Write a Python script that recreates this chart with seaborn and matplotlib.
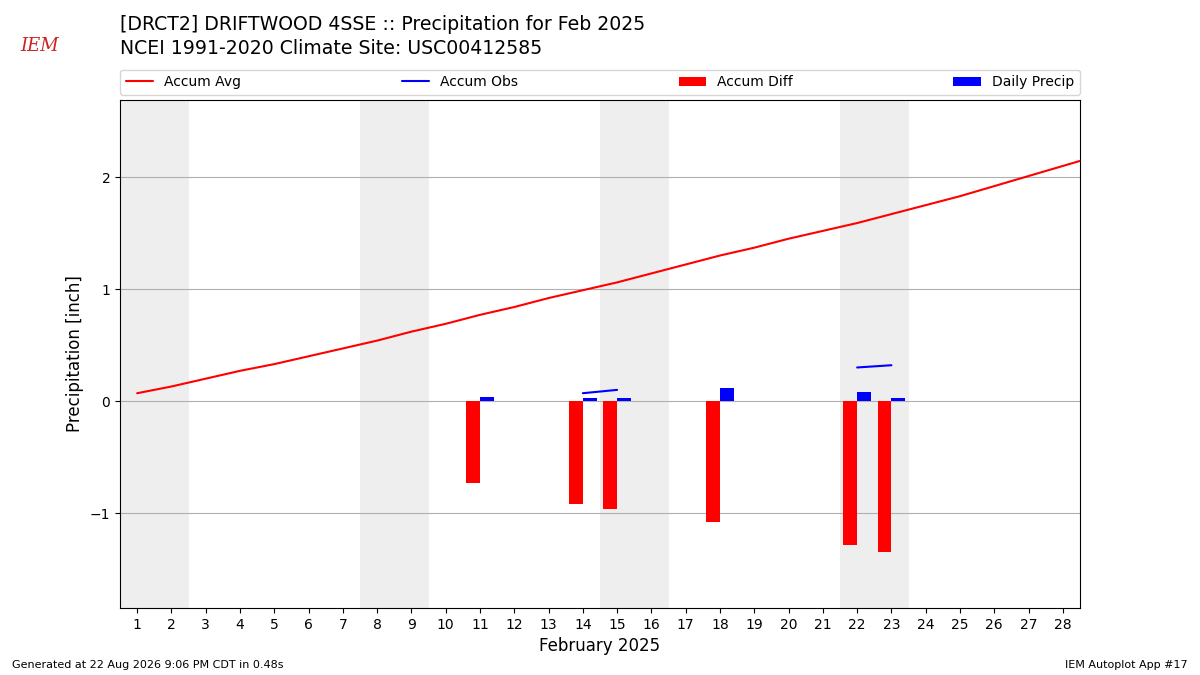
import numpy as np
import matplotlib
matplotlib.use('Agg')
import matplotlib.pyplot as plt
import seaborn as sns

sns.set_theme(style='white')
plt.rcParams['font.family'] = ['DejaVu Sans']
plt.rcParams['text.color'] = 'black'
plt.rcParams['axes.labelcolor'] = 'black'
plt.rcParams['xtick.color'] = 'black'
plt.rcParams['ytick.color'] = 'black'

days = list(range(1, 30))
accum_avg = [0.07, 0.13, 0.20, 0.27, 0.33, 0.40, 0.47, 0.54, 0.62, 0.69,
             0.77, 0.84, 0.92, 0.99, 1.06, 1.14, 1.22, 1.30, 1.37, 1.45,
             1.52, 1.59, 1.67, 1.75, 1.83, 1.92, 2.01, 2.10, 2.19]
obs_days = [11, 14, 15, 18, 22, 23]
daily_precip = [0.04, 0.03, 0.03, 0.12, 0.08, 0.03]
accum_obs = [0.04, 0.07, 0.10, 0.22, 0.30, 0.32]
weekends = [(1, 2), (8, 9), (15, 16), (22, 23)]

avg_map = dict(zip(days, accum_avg))
accum_diff = [o - avg_map[d] for d, o in zip(obs_days, accum_obs)]

fig = plt.figure(figsize=(12, 6.75), dpi=100)
ax = fig.add_axes([0.1, 0.099, 0.8, 0.753])

for a, b in weekends:
    ax.axvspan(a - 0.5, b + 0.5, color='#eeeeee', zorder=0, linewidth=0)

sns.lineplot(x=days, y=accum_avg, color='red', ax=ax, label='Accum Avg', zorder=3)
# observed accumulation is only joined on consecutive days
obs = dict(zip(obs_days, accum_obs))
first = True
for d in obs_days:
    if d + 1 in obs:
        ax.plot([d, d + 1], [obs[d], obs[d + 1]], color='blue',
                label='Accum Obs' if first else None, zorder=3)
        first = False
ax.bar(np.array(obs_days) - 0.2, accum_diff, width=0.4, color='red',
       linewidth=0, label='Accum Diff', zorder=2)
ax.bar(np.array(obs_days) + 0.2, daily_precip, width=0.4, color='blue',
       linewidth=0, label='Daily Precip', zorder=2)

ax.set_xlim(0.5, 28.5)
ax.set_ylim(-1.85, 2.69)
ax.set_xticks(range(1, 29))
ax.set_yticks([-1, 0, 1, 2])
ax.set_yticklabels(['\u22121', '0', '1', '2'])
ax.yaxis.grid(True, color='#b0b0b0', linewidth=0.8)
ax.set_axisbelow(True)
for s in ax.spines.values():
    s.set_color('black')
    s.set_linewidth(0.8)
ax.tick_params(axis='both', length=3.5, width=0.8, color='black', labelsize=10, bottom=True, left=True)
ax.set_xlabel('February 2025', fontsize=12)
ax.set_ylabel('Precipitation [inch]', fontsize=12)

ax.legend(loc='lower left', bbox_to_anchor=(0, 1.01, 1, 0.05), ncol=4, mode='expand',
          fontsize=10, frameon=True, borderaxespad=0)

fig.text(0.1, 0.963, '[DRCT2] DRIFTWOOD 4SSE :: Precipitation for Feb 2025', fontsize=13.6, va='center')
fig.text(0.1, 0.928, 'NCEI 1991-2020 Climate Site: USC00412585', fontsize=13.6, va='center')
fig.text(0.017, 0.925, 'IEM', fontsize=13, color='#cc2222', style='italic', family='serif')
fig.text(0.01, 0.01, 'Generated at 22 Aug 2026 9:06 PM CDT in 0.48s', fontsize=8)
fig.text(0.99, 0.01, 'IEM Autoplot App #17', fontsize=8, ha='right')

fig.savefig('out.png', dpi=100)
